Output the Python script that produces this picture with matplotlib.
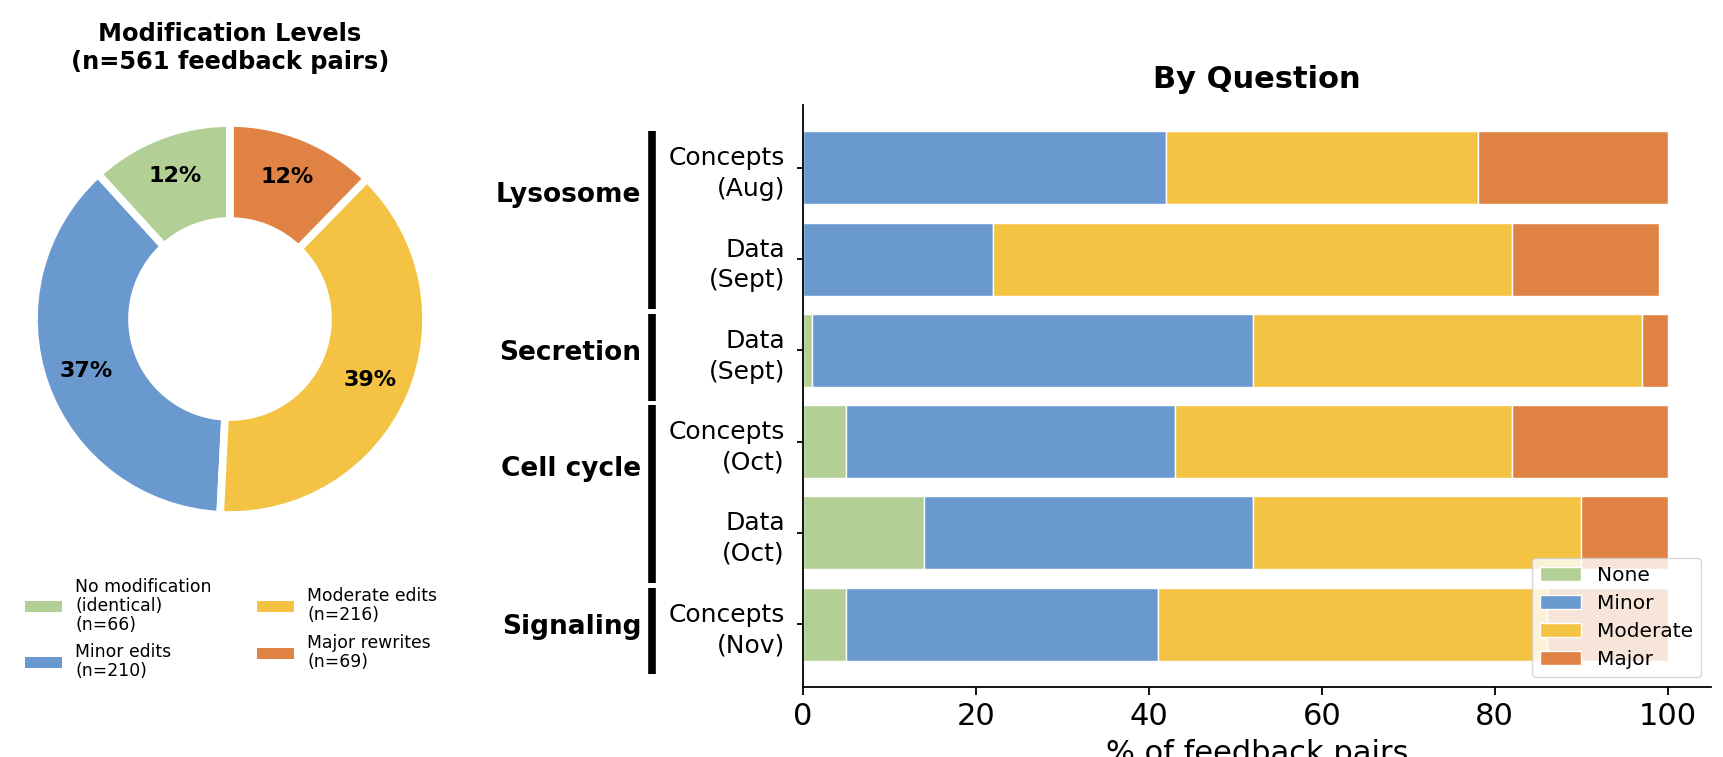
import matplotlib
matplotlib.use("Agg")
import matplotlib.pyplot as plt
from matplotlib.patches import Patch
from matplotlib.transforms import blended_transform_factory
import numpy as np

# ---------------- data ----------------
pie_labels = ["No modification\n(identical)\n(n=66)", "Minor edits\n(n=210)",
              "Moderate edits\n(n=216)", "Major rewrites\n(n=69)"]
pie_counts = [66, 210, 216, 69]
colors = ["#b2d096", "#6a99cf", "#f4c343", "#e08244"]

levels = ["None", "Minor", "Moderate", "Major"]
row_labels = ["Concepts\n(Aug)", "Data\n(Sept)", "Data\n(Sept)",
              "Concepts\n(Oct)", "Data\n(Oct)", "Concepts\n(Nov)"]
none_pct = [0, 0, 1, 5, 14, 5]
minor_pct = [42, 22, 51, 38, 38, 36]
moderate_pct = [36, 60, 45, 39, 38, 45]
major_pct = [22, 17, 3, 18, 10, 14]

groups = ["Lysosome", "Secretion", "Cell cycle", "Signaling"]
group_sizes = [2, 1, 2, 1]

# ---------------- figure ----------------
W, H = 1724, 757
fig = plt.figure(figsize=(W / 100, H / 100), dpi=100)

# ---- donut ----
R_px = 196
side = 2.2 * R_px
cx, cy = 230, 319
ax_pie = fig.add_axes([(cx - side / 2) / W, (H - cy - side / 2) / H, side / W, side / H])
wedges, texts, autotexts = ax_pie.pie(
    pie_counts, colors=colors, startangle=90, counterclock=True,
    autopct=lambda p: f"{p:.0f}%", pctdistance=0.78,
    wedgeprops=dict(width=0.5, edgecolor="white", linewidth=5.5),
    textprops=dict(fontsize=16, fontweight="bold", color="black"))
ax_pie.set_xlim(-1.1, 1.1)
ax_pie.set_ylim(-1.1, 1.1)
ax_pie.set_aspect("equal")

fig.text(cx / W, 1 - 48 / H, "Modification Levels\n(n=561 feedback pairs)",
         ha="center", va="center", fontsize=17.4, fontweight="bold")

pie_handles = [Patch(facecolor=c, edgecolor="none", label=l) for c, l in zip(colors, pie_labels)]
leg1 = fig.legend(handles=pie_handles, loc="center", bbox_to_anchor=(231 / W, 1 - 629 / H),
                  ncol=2, frameon=False, fontsize=12.4, handlelength=2.15, handleheight=0.6,
                  columnspacing=2.6, labelspacing=0.55, handletextpad=0.8)
for t in leg1.get_texts():
    t.set_linespacing(1.08)

# ---- stacked bars ----
ax = fig.add_axes([803 / W, 1 - 687 / H, (1711 - 803) / W, (687 - 105) / H])
y = np.arange(len(row_labels))
series = [none_pct, minor_pct, moderate_pct, major_pct]
left = np.zeros(len(row_labels))
for vals, c, lvl in zip(series, colors, levels):
    vals = np.array(vals, dtype=float)
    ax.barh(y, vals, left=left, height=0.8, color=c, edgecolor="white", linewidth=1, label=lvl)
    left += vals
ax.invert_yaxis()
ax.set_xlim(0, 105)
ylim = ax.get_ylim()
ax.set_xticks([0, 20, 40, 60, 80, 100])
ax.set_yticks(y, row_labels, fontsize=18, linespacing=1.35)
ax.tick_params(axis="y", length=4, width=1.3, pad=9)
ax.tick_params(axis="x", labelsize=22, length=5.5, width=1.3, pad=5)
for s in ["top", "right"]:
    ax.spines[s].set_visible(False)
for s in ["left", "bottom"]:
    ax.spines[s].set_linewidth(1.3)
ax.set_title("By Question", fontsize=22, fontweight="bold", pad=12)
ax.set_xlabel("% of feedback pairs", fontsize=22, labelpad=6)
ax.legend(loc="lower right", fontsize=14.5, labelspacing=0.45, handlelength=2.0)

# ---- group brackets ----
trans = blended_transform_factory(ax.transAxes, ax.transData)
start = 0
for name, n in zip(groups, group_sizes):
    first, last = start, start + n - 1
    ax.plot([-0.166, -0.166], [first - 0.4, last + 0.55], transform=trans,
            color="black", lw=5.5, clip_on=False, solid_capstyle="butt")
    ax.text(-0.178, first + (n - 1) * 0.27 + 0.03, name, transform=trans, ha="right", va="center",
            fontsize=19, fontweight="bold")
    start += n
ax.set_ylim(ylim)

fig.savefig("out.png", dpi=100)
